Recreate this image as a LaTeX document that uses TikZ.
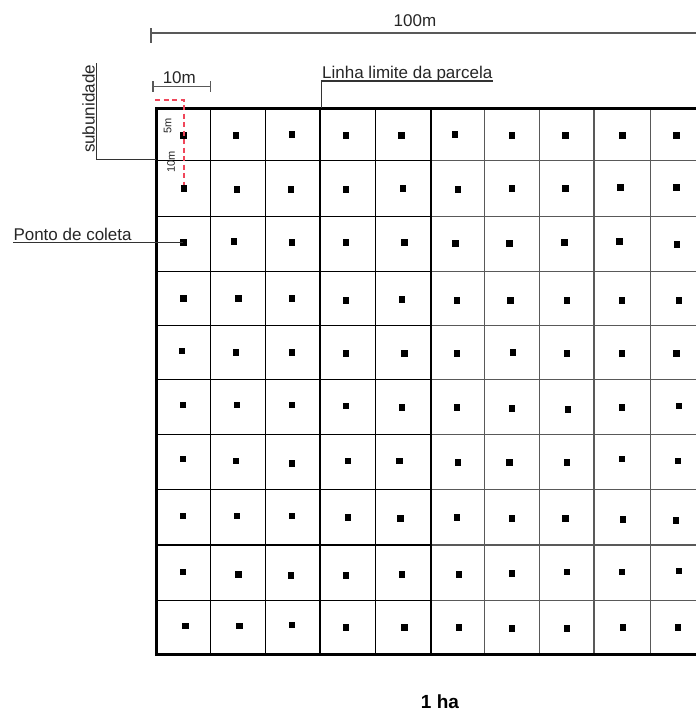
\documentclass[tikz,border=0pt]{standalone}
\usepackage{fontspec}
\setmainfont{Liberation Sans}
\begin{document}
\begin{tikzpicture}[x=1pt,y=-1pt,
  lbl/.style={inner sep=0pt, font=\fontsize{17}{20}\selectfont, text=black!85},
  small/.style={inner sep=0pt, font=\fontsize{11}{13}\selectfont, text=black!85},
  dot/.style={rectangle, fill=black, minimum size=6.5pt, inner sep=0pt},
  gridA/.style={line width=1.3pt, black},
  gridB/.style={line width=1.3pt, black!65},
  border/.style={line width=3pt, black, line join=miter},
  dim/.style={line width=1.2pt, black!65},
  lead/.style={line width=1.2pt, black!80},
  red dash/.style={line width=1.3pt, color={rgb,255:red,240;green,70;blue,90}, dash pattern=on 5pt off 3.5pt}
]
\useasboundingbox (0,0) rectangle (696,713);

% grid interior lines
\foreach \yy in {160.5,216.5,271.5,325.7,379.5,434.5,489.3,545,600.3} {
  \draw[gridA] (156,\yy) -- (431,\yy);
  \draw[gridB] (431,\yy) -- (696,\yy);
}
\foreach \xx in {210.5,265.5,320,375.5,431} \draw[gridA] (\xx,108) -- (\xx,654);
\foreach \xx in {484.5,539.3,594,650.3} \draw[gridB] (\xx,108) -- (\xx,654);

% plot border (right side cut off)
\draw[border] (696,108) -- (156,108) -- (156,654) -- (696,654);

% collection points
\foreach \x/\y [count=\c] in {183.4/135.7,236/135.7,292.1/134.7,346/135.7,401.7/135.7,455/134.7,512.1/135.7,565.7/135.7,622.5/135.7,676.5/135.7}
  \node[dot] (d-1-\c) at (\x,\y) {};
\foreach \x/\y [count=\c] in {184.1/188.3,237/189.7,291/189.7,346/189.7,403.1/188.3,457.8/189.7,512.1/188.3,565.7/188.3,620.7/187.3,676.5/187.3}
  \node[dot] (d-2-\c) at (\x,\y) {};
\foreach \x/\y [count=\c] in {183.4/242.3,233.9/241.3,292.1/242.3,346/242.3,404.5/242.3,455.7/243.3,509.7/243.3,564.7/242.3,619.7/241.3,676.8/244.7}
  \node[dot] (d-3-\c) at (\x,\y) {};
\foreach \x/\y [count=\c] in {183.4/298.3,238.4/298.3,292.1/298.3,346/300.3,402.1/299.3,456.8/300.3,510.7/300.3,566.8/300.3,621.8/300.3,678.9/300.3}
  \node[dot] (d-4-\c) at (\x,\y) {};
\foreach \x/\y [count=\c] in {182/351,236/352.3,292.1/352.3,346/353.3,404.5/353.3,456.8/353.3,513.2/352.3,566.8/353.3,621.8/353.3,676.5/353.3}
  \node[dot] (d-5-\c) at (\x,\y) {};
\foreach \x/\y [count=\c] in {183.1/405,237/405,292.1/405,346/406,402.1/407.3,456.8/407.3,512.1/408.3,567.8/409.3,621.8/407.3,678.9/406}
  \node[dot] (d-6-\c) at (\x,\y) {};
\foreach \x/\y [count=\c] in {183.1/459,236/461,292.1/463.3,348.1/461,399.7/461,457.8/462.3,509.7/462.3,566.8/462.3,621.8/459,677.9/461}
  \node[dot] (d-7-\c) at (\x,\y) {};
\foreach \x/\y [count=\c] in {183.1/516,237/516,292.1/516,348.1/517.3,400.7/518.3,456.8/517.3,512.1/518.3,565.7/518.3,622.8/519.3,675.8/520.3}
  \node[dot] (d-8-\c) at (\x,\y) {};
\foreach \x/\y [count=\c] in {183.1/572,238.4/574.3,291/575.3,346/575.3,402.1/574.3,458.8/574.3,512.1/573.3,566.8/572,621.8/572,678.9/571}
  \node[dot] (d-9-\c) at (\x,\y) {};
\foreach \x/\y [count=\c] in {185.5/626,239.5/626,292.1/625,346/627.3,404.5/627.3,458.8/627.3,512.1/628.3,566.8/628.3,622.8/627.3,677.9/627.3}
  \node[dot] (d-10-\c) at (\x,\y) {};

% 100m dimension
\coordinate (t100a) at (151,28);
\coordinate (t100b) at (151,43);
\coordinate (l100a) at (151,33);
\coordinate (l100b) at (696,33);
\draw[dim] (t100a) -- (t100b);
\draw[dim] (l100a) -- (l100b);
\node[lbl, anchor=base] (t100) at (415,26.5) {100m};

% 10m dimension
\coordinate (t10a) at (153,81);
\coordinate (t10b) at (153,91.5);
\coordinate (t10c) at (210.3,81);
\coordinate (t10d) at (210.3,91.5);
\draw[dim] (t10a) -- (t10b);
\draw[dim] (t10c) -- (t10d);
\draw[dim] (153,86.7) -- (210.3,86.7);
\node[lbl, anchor=base] (t10) at (179.3,83.3) {10m};

% Linha limite da parcela
\node[lbl, anchor=base west] (linha) at (322,78.3) {Linha limite da parcela};
\coordinate (lk) at (321.7,81);
\coordinate (lb) at (321.7,108);
\draw[lead] (linha.base east |- lk) -- (lk) -- (lb);

% subunidade
\node[lbl, rotate=90, anchor=base] (sub) at (94.5,109) {subunidade};
\coordinate (sk) at (96.3,159.8);
\coordinate (sb) at (156,159.8);
\draw[lead] (96.3,63) -- (sk) -- (sb);

% Ponto de coleta
\node[lbl, anchor=base west] (ponto) at (13.3,240) {Ponto de coleta};
\coordinate (pk) at (13.3,242.3);
\draw[lead] (pk) -- (d-3-1.center);

% red dashed measures
\coordinate (ra) at (155,100);
\coordinate (rb) at (184,100);
\draw[red dash] (ra) -- (rb) -- (d-2-1.north -| rb);
\node[small, rotate=90] (m5) at (167.7,126) {5m};
\node[small, rotate=90] (m10) at (171,161.7) {10m};

% area label
\node[inner sep=0pt, anchor=base, font=\fontsize{19}{22}\selectfont\bfseries] (ha) at (440,708.5) {1 ha};
\end{tikzpicture}
\end{document}
